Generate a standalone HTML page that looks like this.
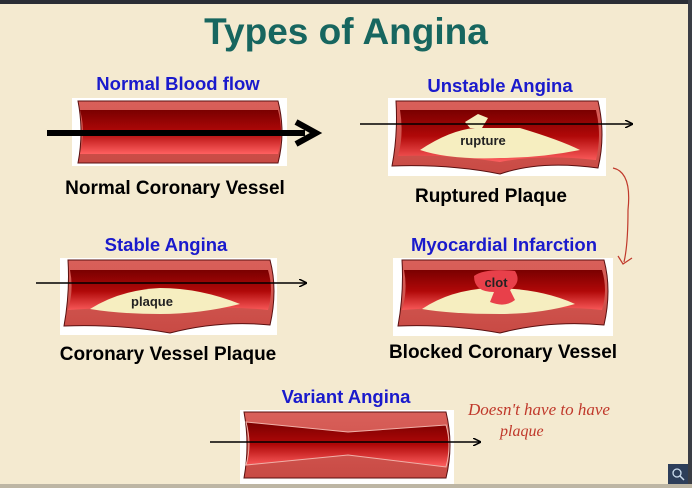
<!DOCTYPE html>
<html><head><style>
html,body{margin:0;padding:0;width:692px;height:488px;overflow:hidden;background:#f4ead0;}
svg{display:block}
text{font-family:"Liberation Sans",Arial,sans-serif;font-weight:bold}
</style></head><body>
<svg width="692" height="488" viewBox="0 0 692 488" xmlns="http://www.w3.org/2000/svg">
<defs>
<linearGradient id="lum" x1="0" y1="0" x2="0" y2="1">
<stop offset="0" stop-color="#7a0000"/><stop offset="0.5" stop-color="#b00808"/><stop offset="1" stop-color="#ff6060"/>
</linearGradient>
<linearGradient id="wall" x1="0" y1="0" x2="0" y2="1">
<stop offset="0" stop-color="#d9605a"/><stop offset="1" stop-color="#c84a44"/>
</linearGradient>
<marker id="ah" markerWidth="8" markerHeight="8" refX="7" refY="4" orient="auto" markerUnits="userSpaceOnUse"><path d="M0,0 L8,4 L0,8" fill="none" stroke="#000" stroke-width="1.5"/></marker>
</defs>
<rect width="692" height="488" fill="#f4ead0"/>
<rect width="692" height="4" fill="#2a2d35"/>
<rect x="688" y="0" width="4" height="488" fill="#3a3d45"/>
<rect x="0" y="484" width="692" height="4" fill="#bdb6a4"/>

<text x="346" y="44" font-size="37" fill="#17665f" text-anchor="middle">Types of Angina</text>

<!-- Normal -->
<text x="178" y="90" font-size="18.5" fill="#1a1acc" text-anchor="middle">Normal Blood flow</text>
<rect x="72" y="98" width="215" height="68" fill="#fff"/>
<path d="M78,101 L278,101 Q286,132 278,163 L78,163 Q84,132 78,101Z" fill="url(#wall)" stroke="#5a1010" stroke-width="1"/>
<path d="M80,110 L278,110 Q284,132 278,154 L80,154 Q86,132 80,110Z" fill="url(#lum)"/>
<line x1="47" y1="133" x2="305" y2="133" stroke="#000" stroke-width="6"/>
<path d="M296,122 L316,133 L296,144" fill="none" stroke="#000" stroke-width="6"/>
<text x="175" y="194" font-size="19" fill="#000" text-anchor="middle">Normal Coronary Vessel</text>

<!-- Unstable -->
<text x="500" y="92" font-size="18.5" fill="#1a1acc" text-anchor="middle">Unstable Angina</text>
<rect x="388" y="98" width="218" height="78" fill="#fff"/>
<path d="M396,101 L598,101 Q606,135 598,168 Q540,160 500,174 Q450,164 392,166 Q398,135 396,101Z" fill="url(#wall)" stroke="#5a1010"/>
<path d="M400,110 L596,110 Q602,135 596,160 Q540,154 500,162 Q450,154 398,156 Q404,135 400,110Z" fill="url(#lum)"/>
<path d="M420,150 Q450,130 475,128 L520,128 Q560,140 580,150 Q540,158 500,158 Q450,160 420,150Z" fill="#f6eec0"/>
<path d="M465,122 L478,114 L488,118 L482,128 L470,128Z" fill="#f6eec0"/>
<text x="483" y="145" font-size="13" fill="#222" text-anchor="middle">rupture</text>
<line x1="360" y1="124" x2="632" y2="124" stroke="#000" stroke-width="1.5" marker-end="url(#ah)"/>
<text x="491" y="202" font-size="19" fill="#000" text-anchor="middle">Ruptured Plaque</text>
<path d="M613,168 Q632,172 628,210 Q628,245 624,262" fill="none" stroke="#c0392b" stroke-width="1.2"/>
<path d="M618,256 L623,264 L632,258" fill="none" stroke="#c0392b" stroke-width="1.2"/>

<!-- Stable -->
<text x="166" y="251" font-size="18.5" fill="#1a1acc" text-anchor="middle">Stable Angina</text>
<rect x="60" y="258" width="217" height="77" fill="#fff"/>
<path d="M68,260 L270,260 Q278,290 270,325 Q220,320 170,333 Q120,324 64,326 Q70,293 68,260Z" fill="url(#wall)" stroke="#5a1010"/>
<path d="M70,270 L268,270 Q274,290 268,310 Q220,305 170,312 Q120,306 68,310 Q74,290 70,270Z" fill="url(#lum)"/>
<path d="M90,309 Q120,290 160,288 Q200,288 240,304 Q200,314 160,314 Q120,314 90,309Z" fill="#f6eec0"/>
<text x="152" y="306" font-size="13" fill="#222" text-anchor="middle">plaque</text>
<line x1="36" y1="283" x2="306" y2="283" stroke="#000" stroke-width="1.5" marker-end="url(#ah)"/>
<text x="168" y="360" font-size="19" fill="#000" text-anchor="middle">Coronary Vessel Plaque</text>

<!-- MI -->
<text x="504" y="251" font-size="18.5" fill="#1a1acc" text-anchor="middle">Myocardial Infarction</text>
<rect x="393" y="258" width="220" height="78" fill="#fff"/>
<path d="M402,260 L604,260 Q612,290 604,325 Q550,320 500,333 Q450,324 398,326 Q404,293 402,260Z" fill="url(#wall)" stroke="#5a1010"/>
<path d="M404,270 L602,270 Q608,290 602,310 Q550,305 500,312 Q450,306 402,310 Q408,290 404,270Z" fill="url(#lum)"/>
<path d="M422,309 Q450,290 490,288 Q540,288 575,304 Q540,314 500,314 Q450,314 422,309Z" fill="#f6eec0"/>
<path d="M474,276 Q485,268 515,271 Q522,282 510,290 L515,300 Q505,308 490,302 L494,292 Q474,292 474,276Z" fill="#e8404a"/>
<text x="496" y="287" font-size="13" fill="#222" text-anchor="middle">clot</text>
<text x="503" y="358" font-size="19" fill="#000" text-anchor="middle">Blocked Coronary Vessel</text>

<!-- Variant -->
<text x="346" y="403" font-size="18.5" fill="#1a1acc" text-anchor="middle">Variant Angina</text>
<rect x="240" y="410" width="214" height="74" fill="#fff"/>
<path d="M244,412 L446,412 Q454,445 446,478 L244,478 Q250,445 244,412Z" fill="url(#wall)" stroke="#5a1010"/>
<path d="M246,422 L348,432 L446,425 Q452,445 446,467 L348,455 L246,465 Q252,445 246,422Z" fill="url(#lum)" stroke="#f0b0a8" stroke-width="1"/>
<line x1="210" y1="442" x2="480" y2="442" stroke="#000" stroke-width="1.5" marker-end="url(#ah)"/>

<text x="468" y="415" font-size="17" fill="#c0392b" style="font-family:'Liberation Serif',serif;font-weight:normal;font-style:italic">Doesn't have to have</text>
<text x="500" y="436" font-size="16" fill="#c0392b" style="font-family:'Liberation Serif',serif;font-weight:normal;font-style:italic">plaque</text>

<rect x="668" y="464" width="20" height="20" fill="#2d3e5a"/>
<circle cx="677" cy="473" r="4" fill="none" stroke="#cde" stroke-width="1.3"/>
<line x1="680" y1="476" x2="684" y2="480" stroke="#cde" stroke-width="1.5"/>
</svg>
</body></html>
